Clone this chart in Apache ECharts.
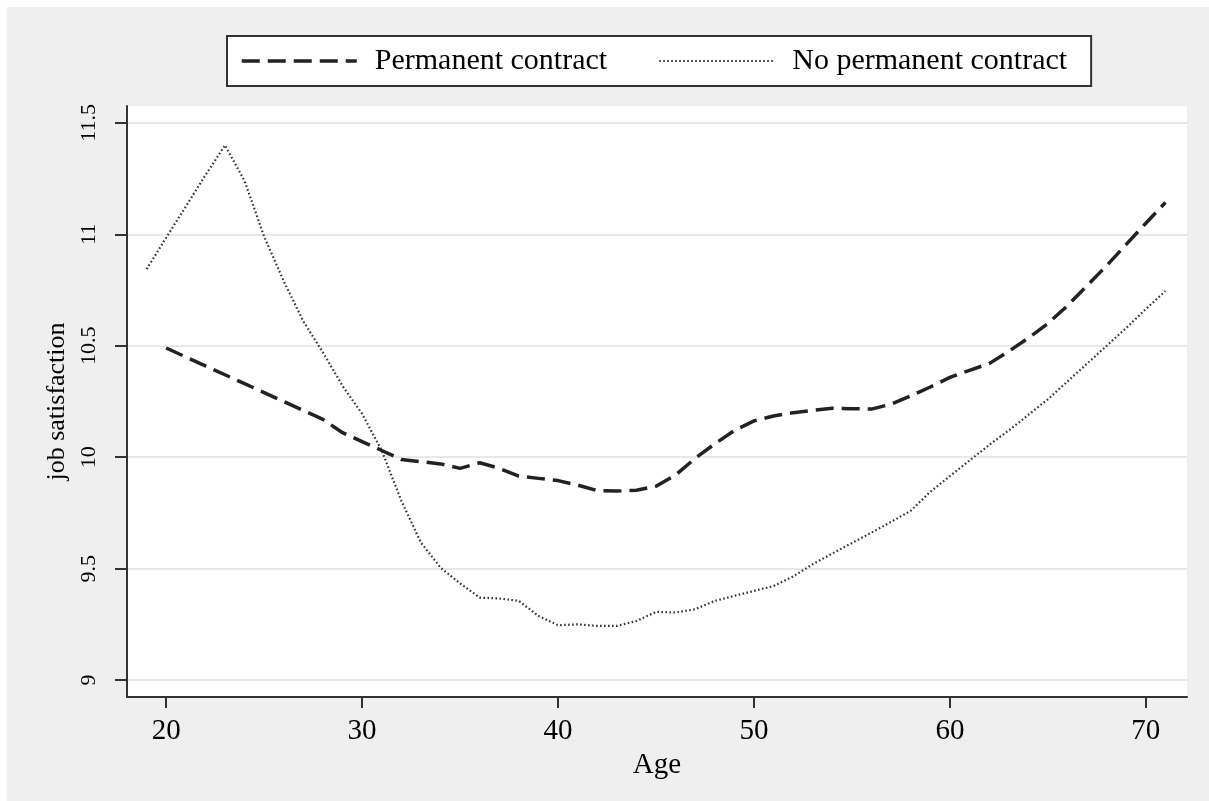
<!DOCTYPE html>
<html>
<head>
<meta charset="utf-8">
<script src="https://cdn.jsdelivr.net/npm/echarts@6/dist/echarts.min.js"></script>
<style>
  html, body { margin: 0; padding: 0; background: #ffffff; }
  #chart { position: absolute; left: 7px; top: 7px; width: 1202px; height: 794px; }
</style>
</head>
<body>
<div id="chart"></div>
<script>
// ---- data ----
const permAges = [20,21,22,23,24,25,26,27,28,29,30,31,32,33,34,35,36,37,38,39,40,41,42,43,44,45,
  46,47,48,49,50,51,52,53,54,55,56,57,58,59,60,61,62,63,64,65,66,67,68,69,70,71];
const permValues = [10.49,10.45,10.41,10.37,10.33,10.29,10.25,10.21,10.17,10.11,10.07,10.03,9.99,9.98,
  9.97,9.95,9.975,9.95,9.915,9.905,9.895,9.875,9.85,9.848,9.852,9.87,9.92,9.995,10.06,10.12,10.163,
  10.185,10.2,10.21,10.22,10.218,10.216,10.238,10.275,10.315,10.358,10.39,10.42,10.475,10.535,10.6,
  10.68,10.77,10.86,10.955,11.05,11.143];
const tempAges = [19,20,21,22,23,24,25,26,27,28,29,30,31,32,33,34,35,36,37,38,39,40,41,42,43,44,45,
  46,47,48,49,50,51,52,53,54,55,56,57,58,59,60,61,62,63,64,65,66,67,68,69,70,71];
const tempValues = [10.844,10.985,11.125,11.265,11.4,11.24,10.99,10.79,10.61,10.47,10.32,10.195,10.03,
  9.805,9.617,9.505,9.434,9.37,9.366,9.355,9.288,9.246,9.25,9.243,9.243,9.265,9.306,9.303,9.318,9.355,
  9.378,9.4,9.422,9.465,9.52,9.568,9.615,9.662,9.71,9.76,9.845,9.915,9.985,10.055,10.12,10.19,10.26,
  10.34,10.42,10.5,10.58,10.665,10.746];
const seriesNames = ['Permanent contract', 'No permanent contract'];
const xTicks = [20, 30, 40, 50, 60, 70];
const yTicks = [9, 9.5, 10, 10.5, 11, 11.5];
const xTitle = 'Age';
const yTitle = 'job satisfaction';

const FONT = '"Liberation Serif", "DejaVu Serif", serif';
const chart = echarts.init(document.getElementById('chart'), null, { renderer: 'canvas' });

const permLine = { color: '#222222', width: 3.5, type: [18, 8] };
const tempLine = { color: '#333333', width: 2.2, type: [1.6, 2.4] };

const option = {
  backgroundColor: '#efefef',
  animation: false,
  legend: {
    left: 220, top: 29,
    orient: 'horizontal',
    backgroundColor: '#ffffff',
    borderColor: '#333333',
    borderWidth: 2,
    borderRadius: 0,
    padding: [5, 24, 5, 13],
    itemWidth: 115,
    itemHeight: 20,
    itemGap: 51,
    itemStyle: { color: 'rgba(0,0,0,0)', borderWidth: 0, opacity: 0 },
    textStyle: { fontFamily: FONT, fontSize: 30, color: '#000', padding: [4, 0, 0, 13], lineHeight: 36 },
    data: [
      { name: seriesNames[0], lineStyle: permLine },
      { name: seriesNames[1], lineStyle: tempLine }
    ]
  },
  grid: {
    left: 120, top: 99, width: 1060, height: 591,
    show: true, backgroundColor: '#ffffff', borderWidth: 0
  },
  xAxis: {
    type: 'value', min: 18, max: 72.1,
    name: xTitle, nameLocation: 'middle', nameGap: 47,
    nameTextStyle: { fontFamily: FONT, fontSize: 29, color: '#000' },
    axisLine: { show: true, onZero: false, lineStyle: { color: '#333', width: 2 } },
    axisTick: { show: true, length: 11, customValues: xTicks, lineStyle: { color: '#333', width: 2 } },
    axisLabel: { customValues: xTicks, margin: 20, fontFamily: FONT, fontSize: 29, color: '#000' },
    splitLine: { show: false }
  },
  yAxis: {
    type: 'value', min: 8.924, max: 11.576,
    name: yTitle, nameLocation: 'middle', nameGap: 46,
    nameTextStyle: { fontFamily: FONT, fontSize: 26, color: '#000' },
    axisLine: { show: true, onZero: false, lineStyle: { color: '#333', width: 2 } },
    axisTick: { show: true, length: 12, customValues: yTicks, lineStyle: { color: '#333', width: 2 } },
    axisLabel: { customValues: yTicks, rotate: 90, margin: 27, fontFamily: FONT, fontSize: 22, color: '#000' },
    splitLine: { show: true, lineStyle: { color: '#e8e8e8', width: 2 } }
  },
  series: [
    {
      name: seriesNames[0], type: 'line', symbol: 'none', smooth: false,
      data: permAges.map((a, i) => [a, permValues[i]]),
      lineStyle: permLine,
      itemStyle: { color: '#222222' },
      z: 3
    },
    {
      name: seriesNames[1], type: 'line', symbol: 'none', smooth: false,
      data: tempAges.map((a, i) => [a, tempValues[i]]),
      lineStyle: tempLine,
      itemStyle: { color: '#333333' },
      z: 2
    }
  ]
};
chart.setOption(option);
</script>
</body>
</html>
